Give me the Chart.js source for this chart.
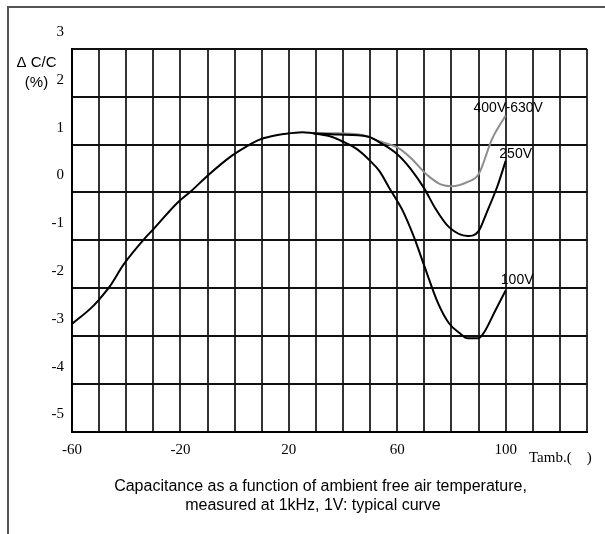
<!DOCTYPE html>
<html><head><meta charset="utf-8">
<script src="https://cdn.jsdelivr.net/npm/chart.js@4/dist/chart.umd.min.js"></script>
<style>
html,body{margin:0;padding:0;background:#fff;}
#wrap{position:relative;width:605px;height:534px;overflow:hidden;}
#frame{position:absolute;left:7px;top:6px;width:620px;height:560px;border-left:2px solid #555;border-top:2px solid #555;}
canvas{position:absolute;left:0;top:0;}
</style></head><body>
<div id="wrap"><div id="frame"></div><canvas id="c" width="605" height="534"></canvas></div>
<script>
// ---- data (temperature °C, ΔC/C %) ----
const commonT = [-60, -53, -50, -46, -41, -33, -30, -21, -16, -10, -1, 4, 9, 14, 18, 25, 29];
const commonV = [-2.75, -2.42, -2.24, -1.96, -1.51, -0.95, -0.77, -0.21, 0.03, 0.35, 0.77, 0.95, 1.10, 1.18, 1.22, 1.26, 1.24];

const v400T = [29, 38, 47, 54, 60, 65, 70, 72, 76, 80, 86, 90, 95, 100];
const v400V = [1.24, 1.24, 1.20, 1.06, 0.94, 0.72, 0.42, 0.32, 0.17, 0.13, 0.22, 0.38, 1.12, 1.61];

const v250T = [29, 38, 49, 54, 60, 65, 70, 74, 79, 86, 90, 93, 97, 100];
const v250V = [1.24, 1.21, 1.17, 1.03, 0.80, 0.49, 0.08, -0.33, -0.72, -0.91, -0.81, -0.42, 0.14, 0.66];

const v100T = [29, 36, 40, 45, 50, 53.5, 57, 60, 62, 66, 70, 75, 79, 83, 86, 90, 92, 96, 100];
const v100V = [1.24, 1.16, 1.06, 0.91, 0.66, 0.44, 0.10, -0.18, -0.38, -0.91, -1.54, -2.31, -2.73, -2.94, -3.05, -3.05, -2.93, -2.49, -2.05];

const seriesNames = ['400V-630V', '250V', '100V'];
const xLabelTicks = [-60, -20, 20, 60, 100];
const yTicks = [3, 2, 1, 0, -1, -2, -3, -4, -5];
const yTitle = ['\u0394 C/C', '(%)'];
const xTitle = 'Tamb.(    )';
const caption = ['Capacitance as a function of ambient free air temperature,', 'measured at 1kHz, 1V: typical curve'];

const pts = (T, V) => T.map((t, i) => ({x: t, y: V[i]}));

const textPlugin = {
  id: 'texts',
  afterDatasetsDraw(chart) {
    const {ctx, scales: {x, y}} = chart;
    ctx.save();
    ctx.fillStyle = '#000';
    // series labels near curve ends
    ctx.font = '14px "Liberation Sans", Arial, sans-serif';
    ctx.textAlign = 'center';
    ctx.textBaseline = 'middle';
    const ends = [[v400T, v400V], [v250T, v250V], [v100T, v100V]];
    const offs = [[2.5, -7], [10, -7], [11.5, -10.5]];
    ends.forEach((e, i) => {
      const n = e[0].length - 1;
      ctx.fillText(seriesNames[i], x.getPixelForValue(e[0][n]) + offs[i][0], y.getPixelForValue(e[1][n]) + offs[i][1]);
    });
    // y title
    ctx.font = '15px "Liberation Sans", Arial, sans-serif';
    ctx.fillText(yTitle[0], 36.5, 63);
    ctx.fillText(yTitle[1], 36.5, 83);
    // x title
    ctx.font = '15px "Liberation Serif", "Times New Roman", serif';
    ctx.textAlign = 'left';
    ctx.fillText(xTitle, 529, 458);
    // caption
    ctx.font = '16px "Liberation Sans", Arial, sans-serif';
    ctx.textAlign = 'center';
    ctx.fillText(caption[0], 320.5, 487);
    ctx.fillText(caption[1], 313, 506);
    ctx.restore();
  }
};

new Chart(document.getElementById('c'), {
  type: 'line',
  data: {
    datasets: [
      {data: pts(commonT, commonV), borderColor: '#000', borderWidth: 2},
      {data: pts(v250T, v250V), borderColor: '#000', borderWidth: 2},
      {data: pts(v100T, v100V), borderColor: '#000', borderWidth: 2},
      {data: pts(v400T, v400V), borderColor: '#8c8c8c', borderWidth: 2}
    ]
  },
  options: {
    responsive: false,
    devicePixelRatio: 1,
    animation: false,
    layout: {padding: {left: 0, top: 49, right: 18, bottom: 0}},
    elements: {point: {radius: 0}, line: {cubicInterpolationMode: 'monotone', fill: false}},
    plugins: {legend: {display: false}, tooltip: {enabled: false}, title: {display: false}},
    scales: {
      x: {
        type: 'linear', min: -60, max: 130,
        afterFit: s => { s.height = 102.5; },
        grid: {color: '#333', lineWidth: 2, drawTicks: false},
        border: {color: '#000', width: 2},
        ticks: {
          stepSize: 10, autoSkip: false, maxRotation: 0, padding: 10, color: '#000',
          font: {family: '"Liberation Serif", "Times New Roman", serif', size: 15},
          callback: v => xLabelTicks.includes(v) ? String(v) : ''
        }
      },
      y: {
        type: 'linear', min: -5, max: 3,
        afterFit: s => { s.width = 72; },
        grid: {color: '#111', lineWidth: 2, drawTicks: false},
        border: {color: '#000', width: 2},
        ticks: {
          stepSize: 1, padding: 8, labelOffset: -17, color: '#000',
          font: {family: '"Liberation Serif", "Times New Roman", serif', size: 15},
          callback: v => yTicks.includes(v) ? String(v) : ''
        }
      }
    }
  },
  plugins: [textPlugin]
});
</script>
</body></html>
